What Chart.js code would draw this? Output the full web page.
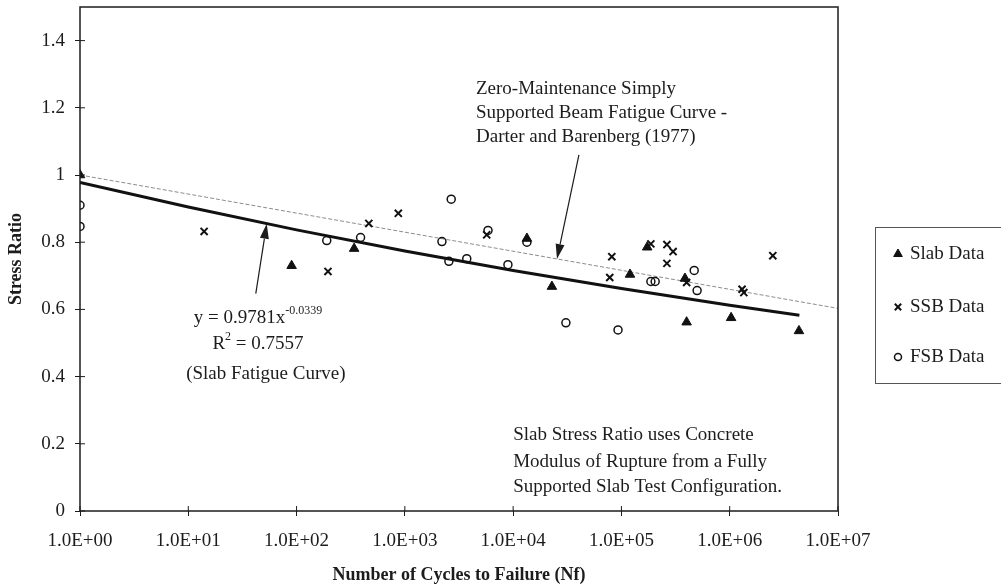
<!DOCTYPE html>
<html>
<head>
<meta charset="utf-8">
<title>Slab Fatigue Data</title>
<script src="https://cdn.jsdelivr.net/npm/chart.js@4.4.1/dist/chart.umd.min.js"></script>
<style>
  html, body { margin: 0; padding: 0; background: #fff; }
  #wrap { width: 1001px; height: 588px; }
</style>
</head>
<body>
<div id="wrap"><canvas id="myChart" width="1001" height="588"></canvas></div>
<script>
'use strict';

// test results, cycles to failure vs stress ratio
let slabCycles = [1, 90, 340, 13400, 22800, 120000, 173000, 386000, 400000, 1030000, 4360000];
let slabRatio = [1.00, 0.730, 0.781, 0.811, 0.668, 0.704, 0.785, 0.692, 0.562, 0.575, 0.536];

let ssbCycles = [14, 195, 465, 870, 5700, 78000, 81500, 187000, 263000, 300000, 263000, 400000, 1300000, 1350000, 2500000];
let ssbRatio = [0.832, 0.713, 0.856, 0.886, 0.822, 0.695, 0.757, 0.795, 0.793, 0.772, 0.737, 0.680, 0.660, 0.650, 0.760];

let fsbCycles = [1, 1, 190, 390, 2200, 2550, 2680, 3730, 5860, 8950, 13400, 30700, 93000, 187000, 205000, 470000, 500000];
let fsbRatio = [0.910, 0.847, 0.805, 0.814, 0.802, 0.743, 0.928, 0.751, 0.835, 0.733, 0.800, 0.560, 0.539, 0.683, 0.683, 0.716, 0.656];

// slab fatigue curve y = 0.9781x^-0.0339
let fitCoef = 0.9781;
let fitPower = -0.0339;
let fitCycles = [1, 10, 100, 1e3, 1e4, 1e5, 1e6, 4.4e6];

// zero-maintenance beam curve (Darter and Barenberg)
let darterCycles = [1, 1e7];
let darterRatio = [1.0, 0.603];

let xTicks = [1, 10, 100, 1e3, 1e4, 1e5, 1e6, 1e7];
let yTicks = [0, 0.2, 0.4, 0.6, 0.8, 1, 1.2, 1.4];

let serif = '"Liberation Serif", "Times New Roman", serif';
let ink = '#1c1c1c';

function toPoints(xs, ys) {
  return xs.map((x, i) => ({x: x, y: ys[i]}));
}

function sciLabel(v) {
  let e = Math.round(Math.log10(v));
  return '1.0E+' + (e < 10 ? '0' + e : e);
}

let fitPoints = fitCycles.map(n => ({x: n, y: fitCoef * Math.pow(n, fitPower)}));

function arrow(ctx, x1, y1, x2, y2) {
  let ang = Math.atan2(y2 - y1, x2 - x1);
  let len = 15, half = 4.5;
  ctx.beginPath();
  ctx.moveTo(x1, y1);
  ctx.lineTo(x2 - Math.cos(ang) * len, y2 - Math.sin(ang) * len);
  ctx.stroke();
  ctx.beginPath();
  ctx.moveTo(x2, y2);
  ctx.lineTo(x2 - Math.cos(ang) * len - Math.sin(ang) * half, y2 - Math.sin(ang) * len + Math.cos(ang) * half);
  ctx.lineTo(x2 - Math.cos(ang) * len + Math.sin(ang) * half, y2 - Math.sin(ang) * len - Math.cos(ang) * half);
  ctx.closePath();
  ctx.fill();
}

// text with a raised small part, centred on cx
function supText(ctx, before, sup, after, cx, cy) {
  let big = '19px ' + serif, small = '12px ' + serif;
  ctx.font = big;
  let w1 = ctx.measureText(before).width;
  let w3 = ctx.measureText(after).width;
  ctx.font = small;
  let w2 = ctx.measureText(sup).width;
  let x = cx - (w1 + w2 + w3) / 2;
  ctx.textAlign = 'left';
  ctx.font = big;
  ctx.fillText(before, x, cy);
  ctx.font = small;
  ctx.fillText(sup, x + w1, cy - 7);
  ctx.font = big;
  ctx.fillText(after, x + w1 + w2, cy);
}

let decorations = {
  id: 'decorations',
  afterDraw(chart) {
    let ctx = chart.ctx;
    let a = chart.chartArea;
    let xs = chart.scales.x;
    let ys = chart.scales.y;
    ctx.save();

    // plot frame
    ctx.strokeStyle = ink;
    ctx.lineWidth = 1.5;
    ctx.strokeRect(a.left, a.top, a.right - a.left, a.bottom - a.top);

    // inner half of the tick marks
    ctx.lineWidth = 1;
    ctx.beginPath();
    xs.ticks.forEach(t => {
      let px = xs.getPixelForValue(t.value);
      ctx.moveTo(px, a.bottom);
      ctx.lineTo(px, a.bottom - 5);
    });
    ys.ticks.forEach(t => {
      let py = ys.getPixelForValue(t.value);
      ctx.moveTo(a.left, py);
      ctx.lineTo(a.left + 5, py);
    });
    ctx.stroke();

    ctx.fillStyle = ink;
    ctx.textBaseline = 'middle';
    ctx.font = '19px ' + serif;

    // beam curve note
    let noteX = xs.getPixelForValue(4540);
    let noteY = ys.getPixelForValue(1.257);
    ['Zero-Maintenance Simply', 'Supported Beam Fatigue Curve -', 'Darter and Barenberg (1977)'].forEach((s, i) => {
      ctx.textAlign = 'left';
      ctx.fillText(s, noteX, noteY + i * 24);
    });

    // fit equation
    let eqX = xs.getPixelForValue(44);
    supText(ctx, 'y = 0.9781x', '-0.0339', '', eqX, ys.getPixelForValue(0.575));
    supText(ctx, 'R', '2', ' = 0.7557', eqX, ys.getPixelForValue(0.497));
    ctx.font = '19px ' + serif;
    ctx.textAlign = 'center';
    ctx.fillText('(Slab Fatigue Curve)', xs.getPixelForValue(52), ys.getPixelForValue(0.407));

    // configuration note
    let cfgX = xs.getPixelForValue(1e4);
    let cfgY = [0.225, 0.147, 0.072];
    ['Slab Stress Ratio uses Concrete', 'Modulus of Rupture from a Fully', 'Supported Slab Test Configuration.'].forEach((s, i) => {
      ctx.textAlign = 'left';
      ctx.fillText(s, cfgX, ys.getPixelForValue(cfgY[i]));
    });

    // arrows to the curves
    ctx.strokeStyle = ink;
    ctx.lineWidth = 1.2;
    let tipN = 53;
    arrow(ctx, xs.getPixelForValue(42), ys.getPixelForValue(0.647),
      xs.getPixelForValue(tipN), ys.getPixelForValue(fitCoef * Math.pow(tipN, fitPower)));
    arrow(ctx, xs.getPixelForValue(40500), ys.getPixelForValue(1.06),
      xs.getPixelForValue(25400), ys.getPixelForValue(1 - Math.log10(25400) / 17.61));

    // legend box
    ctx.strokeStyle = '#555';
    ctx.lineWidth = 1;
    ctx.strokeRect(875.5, 227.5, 140, 156);
    let rows = [254, 307, 357];
    chart.data.datasets.filter(d => d.inLegend).forEach((d, i) => {
      ctx.fillStyle = d.backgroundColor;
      ctx.strokeStyle = d.borderColor;
      ctx.lineWidth = d.borderWidth;
      Chart.helpers.drawPoint(ctx, {pointStyle: d.pointStyle, radius: d.pointRadius - 0.5, borderWidth: d.borderWidth, rotation: 0}, 898, rows[i]);
      ctx.fillStyle = ink;
      ctx.font = '19px ' + serif;
      ctx.textAlign = 'left';
      ctx.fillText(d.label, 910, rows[i]);
    });

    ctx.restore();
  }
};

let ctx = document.getElementById('myChart');
let myChart = new Chart(ctx, {
  type: 'scatter',
  data: {
    datasets: [
      {
        label: 'Slab Data',
        inLegend: true,
        data: toPoints(slabCycles, slabRatio),
        pointStyle: 'triangle',
        pointRadius: 5.5,
        backgroundColor: '#111',
        borderColor: '#111',
        borderWidth: 1,
        order: 0
      },
      {
        label: 'SSB Data',
        inLegend: true,
        data: toPoints(ssbCycles, ssbRatio),
        pointStyle: 'crossRot',
        pointRadius: 5,
        backgroundColor: '#111',
        borderColor: '#111',
        borderWidth: 2,
        order: 0
      },
      {
        label: 'FSB Data',
        inLegend: true,
        data: toPoints(fsbCycles, fsbRatio),
        pointStyle: 'circle',
        pointRadius: 4,
        backgroundColor: 'rgba(0,0,0,0)',
        borderColor: '#111',
        borderWidth: 1.5,
        order: 0
      },
      {
        type: 'line',
        label: 'Slab Fatigue Curve',
        data: fitPoints,
        borderColor: '#111',
        borderWidth: 3,
        pointRadius: 0,
        tension: 0,
        fill: false,
        order: 1
      },
      {
        type: 'line',
        label: 'Zero-Maintenance',
        data: toPoints(darterCycles, darterRatio),
        borderColor: '#8c8c8c',
        borderWidth: 1,
        borderDash: [4, 2],
        pointRadius: 0,
        tension: 0,
        fill: false,
        order: 2
      }
    ]
  },
  options: {
    responsive: false,
    animation: false,
    devicePixelRatio: 1,
    layout: { padding: { left: 0, right: 163, top: 7, bottom: 0 } },
    plugins: {
      legend: { display: false },
      tooltip: { enabled: false }
    },
    scales: {
      x: {
        type: 'logarithmic',
        min: 1,
        max: 1e7,
        afterBuildTicks: s => { s.ticks = xTicks.map(v => ({value: v})); },
        afterFit: s => { s.height = 77; },
        border: { display: false },
        grid: { drawOnChartArea: false, tickLength: 5, color: ink },
        ticks: {
          color: ink,
          font: { family: serif, size: 19 },
          padding: 14,
          maxRotation: 0,
          autoSkip: false,
          callback: v => sciLabel(v)
        },
        title: {
          display: true,
          text: 'Number of Cycles to Failure (Nf)',
          color: ink,
          font: { family: serif, size: 18, weight: 'bold' },
          padding: { top: 0, bottom: 2 }
        }
      },
      y: {
        min: 0,
        max: 1.5,
        afterBuildTicks: s => { s.ticks = yTicks.map(v => ({value: v})); },
        afterFit: s => { s.width = 80; s.paddingTop = 0; s.paddingBottom = 0; },
        border: { display: false },
        grid: { drawOnChartArea: false, tickLength: 5, color: ink },
        ticks: {
          color: ink,
          font: { family: serif, size: 19 },
          padding: 10,
          callback: v => String(+v.toFixed(1))
        },
        title: {
          display: true,
          text: 'Stress Ratio',
          color: ink,
          font: { family: serif, size: 18, weight: 'bold' },
          padding: { top: 6, bottom: 0 }
        }
      }
    }
  },
  plugins: [decorations]
});
</script>
</body>
</html>
